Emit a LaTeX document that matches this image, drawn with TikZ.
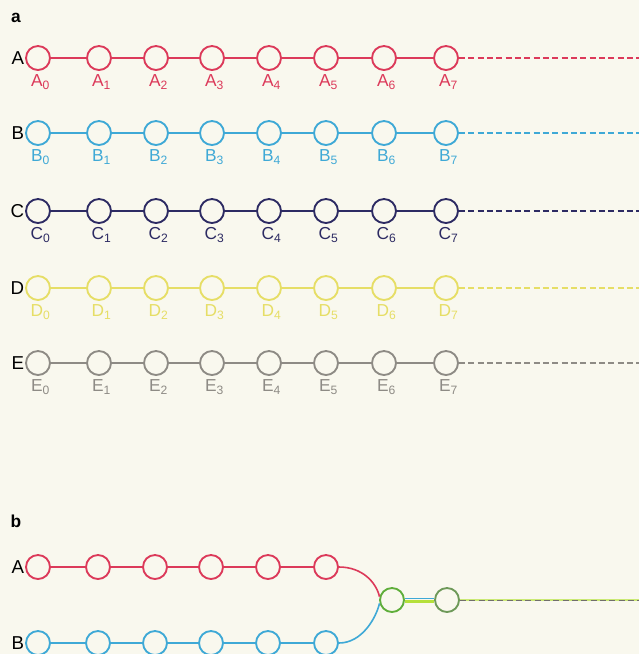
\documentclass[tikz,border=0pt]{standalone}
\usepackage{fontspec}
\setmainfont{Liberation Sans}
\usetikzlibrary{positioning,calc}
\definecolor{chainPaper}{HTML}{F9F8EE}
\definecolor{chainA}{HTML}{DC3A5A}
\definecolor{chainB}{HTML}{3FA9D6}
\definecolor{chainC}{HTML}{2D2B63}
\definecolor{chainD}{HTML}{E6DE66}
\definecolor{chainE}{HTML}{8E8B85}
\definecolor{chainMix}{HTML}{5FAE3A}
\definecolor{chainLime}{HTML}{B5E03A}
\tikzset{
    chainBead/.style={
        circle,
        draw,
        line width=1.4pt,
        minimum size=18pt,
        inner sep=0pt,
        fill=chainPaper
    },
    chainLink/.style={line width=1.2pt},
    chainTail/.style={line width=1pt, dash pattern=on 4.5pt off 2.5pt},
    % Labels
    chainSub/.style={font=\fontsize{13}{15}\selectfont, inner sep=1pt, xshift=2pt},
    chainRow/.style={font=\fontsize{14}{16}\selectfont, inner sep=0pt},
    panelTag/.style={font=\fontsize{13}{15}\selectfont\bfseries, inner sep=0pt}
}
\begin{document}
\begin{tikzpicture}[x=0.75pt, y=-0.75pt]
    \fill[chainPaper] (0,0) rectangle (639,654);
    \useasboundingbox (0,0) rectangle (639,654);
    % panel a
    \node[panelTag] (tagA) at (16,18) {a};
    \foreach \row/\y/\col in {A/58/chainA, B/133/chainB, C/211/chainC, D/288/chainD, E/363/chainE} {
        \foreach \i/\x in {0/38, 1/99, 2/156, 3/212, 4/269, 5/326, 6/384, 7/446} {
            \node[chainBead, draw=\col] (\row\i) at (\x,\y) {};
            \node[chainSub, text=\col, below=1.5pt of \row\i] (sub\row\i) {\row\textsubscript{\i}};
        }
        \foreach \i in {0,...,6} {
            \pgfmathtruncatemacro{\j}{\i+1}
            \draw[chainLink, \col] (\row\i) -- (\row\j);
        }
        \coordinate (\row T) at (639,\y);
        \draw[chainTail, \col] (\row7.east) -- (\row T);
        \node[chainRow, left=0.5pt of \row0] (lbl\row) {\row};
    }
    % panel b
    \node[panelTag] (tagB) at (16,521) {b};
    \foreach \row/\y/\col in {A/567/chainA, B/643/chainB} {
        \foreach \i/\x in {0/38, 1/98, 2/155, 3/211, 4/268, 5/326} {
            \node[chainBead, draw=\col] (m\row\i) at (\x,\y) {};
        }
        \foreach \i in {0,...,4} {
            \pgfmathtruncatemacro{\j}{\i+1}
            \draw[chainLink, \col] (m\row\i) -- (m\row\j);
        }
        \node[chainRow, left=0.5pt of m\row0] (mlbl\row) {\row};
    }
    \node[chainBead, draw=chainMix] (mJoin) at (392,600) {};
    \node[chainBead, draw=chainMix!55!gray] (mNext) at (447,600) {};
    \draw[chainLink, chainA] (mA5.east) .. controls (362,567) and (376,582) .. (mJoin.165);
    \draw[chainLink, chainB] (mB5.east) .. controls (362,643) and (376,618) .. (mJoin.195);
    \draw[line width=1.3pt, chainB] ($(mJoin.east)+(0,-1.5)$) -- ($(mNext.west)+(0,-1.5)$);
    \draw[line width=1.6pt, chainLime] ($(mJoin.east)+(0,1.5)$) -- ($(mNext.west)+(0,1.5)$);
    \coordinate (mEnd) at (639,600);
    \draw[line width=1.2pt, chainLime!70] (mNext.east) -- (mEnd);
    \draw[chainTail, line width=0.7pt, chainE!80!black] (mNext.east) -- (mEnd);
\end{tikzpicture}
\end{document}
